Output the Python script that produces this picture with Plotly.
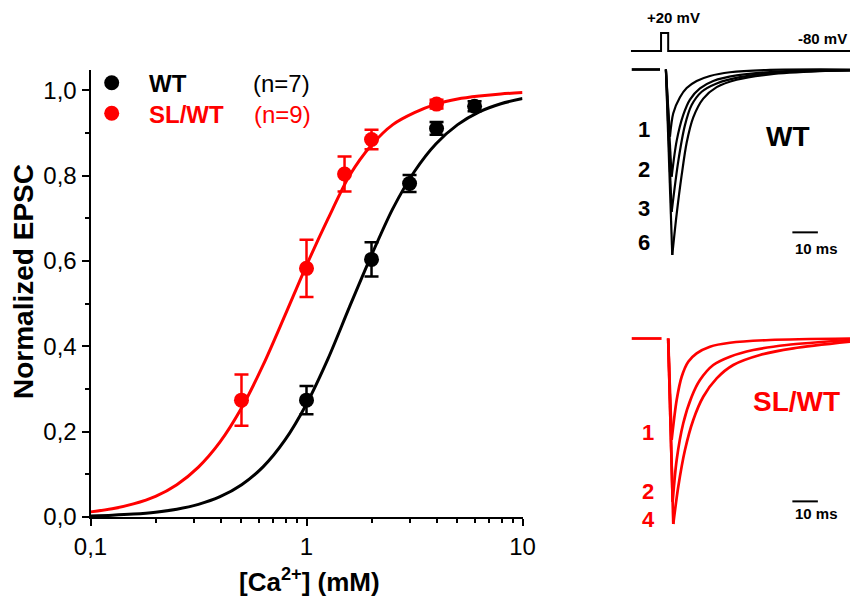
import plotly.graph_objects as go

# ---------------- data: dose-response (main panel) ----------------
wt_ca = [1, 2, 3, 4, 6]
wt_epsc = [0.274, 0.604, 0.782, 0.911, 0.963]
wt_sem = [0.033, 0.040, 0.020, 0.015, 0.012]

sl_ca = [0.5, 1, 1.5, 2, 4]
sl_epsc = [0.274, 0.583, 0.804, 0.885, 0.968]
sl_sem = [0.060, 0.067, 0.041, 0.023, 0.010]

# fitted curves
fit_ca = [0.1, 0.126, 0.158, 0.2, 0.251, 0.316, 0.398, 0.501, 0.631, 0.794, 1.0,
          1.26, 1.58, 2.0, 2.51, 3.16, 3.98, 5.01, 6.31, 7.94, 10.0]
wt_fit = [0.0026, 0.0042, 0.0068, 0.0112, 0.0182, 0.0295, 0.0475, 0.0756, 0.118, 0.180, 0.265,
          0.372, 0.492, 0.614, 0.723, 0.810, 0.875, 0.920, 0.950, 0.969, 0.981]
sl_fit = [0.012, 0.0193, 0.0307, 0.0485, 0.0759, 0.117, 0.176, 0.256, 0.357, 0.472, 0.590,
          0.700, 0.800, 0.872, 0.920, 0.948, 0.968, 0.980, 0.987, 0.992, 0.995]

x_tickvals = [0.1, 1, 10]
x_ticktext = ["0,1", "1", "10"]
x_minor = [0.2, 0.3, 0.4, 0.5, 0.6, 0.7, 0.8, 0.9, 2, 3, 4, 5, 6, 7, 8, 9]
y_tickvals = [0.0, 0.2, 0.4, 0.6, 0.8, 1.0]
y_ticktext = ["0,0", "0,2", "0,4", "0,6", "0,8", "1,0"]
y_minor = [0.1, 0.3, 0.5, 0.7, 0.9]

# ---------------- data: example traces (right panels) ----------------
stim_t = [0, 11.8, 11.8, 14.6, 14.6, 85.9]
stim_mv = [-80, -80, 20, 20, -80, -80]

pre_t = [0.3, 11.4]
wt_pre = [0.0, 0.0]
sl_pre_t = [0.3, 12.0]
sl_pre = [0.0, 0.0]

wt_onset_t = 13.7
sl_onset_t = 14.6

# WT traces (1, 2, 3, 6 mM Ca), amplitude normalised to the 6 mM peak
wt_traces = {
    "1": ([15.29, 16.59, 19.22, 21.84, 25.76, 30.98, 38.82, 54.5, 85.9],
          [-0.362, -0.236, -0.150, -0.100, -0.062, -0.035, -0.015, -0.002, 0.0]),
    "2": ([15.96, 17.92, 20.51, 23.14, 27.06, 32.27, 41.45, 61.06, 85.9],
          [-0.578, -0.385, -0.245, -0.162, -0.102, -0.062, -0.032, -0.008, -0.003]),
    "3": ([15.96, 18.55, 21.18, 23.80, 27.73, 33.61, 42.75, 61.06, 85.9],
          [-0.767, -0.495, -0.300, -0.192, -0.120, -0.075, -0.041, -0.013, -0.005]),
    "6": ([16.20, 17.92, 19.88, 21.84, 24.43, 28.35, 33.61, 41.45, 54.51, 74.1, 85.9],
          [-1.0, -0.780, -0.570, -0.395, -0.258, -0.157, -0.095, -0.055, -0.026, -0.009, -0.005]),
}
# SL/WT traces (1, 2, 4 mM Ca)
sl_traces = {
    "1": ([15.96, 17.92, 19.88, 22.47, 25.76, 30.98, 38.82, 54.51, 85.9],
          [-0.547, -0.332, -0.206, -0.125, -0.080, -0.044, -0.023, -0.008, 0.0]),
    "2": ([16.35, 17.92, 20.51, 23.80, 27.06, 32.27, 38.82, 47.96, 61.06, 85.9],
          [-0.880, -0.655, -0.457, -0.314, -0.224, -0.143, -0.098, -0.062, -0.035, -0.008]),
    "4": ([16.59, 18.55, 21.18, 24.43, 28.35, 33.61, 40.12, 50.59, 63.65, 85.9],
          [-1.0, -0.799, -0.601, -0.439, -0.314, -0.215, -0.143, -0.089, -0.053, -0.017]),
}
scalebar_ms = 10
scalebar_start = 63.3
scalebar_level = -0.878

FONT = "Liberation Sans, Arial, Helvetica, sans-serif"
RED = "#ff0000"
BLACK = "#000000"
W, H = 850, 599

def px(x):
    return x / W

def py(y):
    return 1 - y / H

fig = go.Figure()

# ---- main panel: fits ----
fig.add_trace(go.Scatter(x=fit_ca, y=sl_fit, mode="lines", line=dict(color=RED, width=3, shape="spline", smoothing=0.8),
                         xaxis="x", yaxis="y", showlegend=False, hoverinfo="skip"))
fig.add_trace(go.Scatter(x=fit_ca, y=wt_fit, mode="lines", line=dict(color=BLACK, width=3, shape="spline", smoothing=0.8),
                         xaxis="x", yaxis="y", showlegend=False, hoverinfo="skip"))
# ---- main panel: points ----
fig.add_trace(go.Scatter(x=wt_ca, y=wt_epsc, mode="markers",
                         marker=dict(color=BLACK, size=15),
                         error_y=dict(type="data", array=wt_sem, color=BLACK, thickness=2.5, width=7),
                         xaxis="x", yaxis="y", showlegend=False, cliponaxis=False))
fig.add_trace(go.Scatter(x=sl_ca, y=sl_epsc, mode="markers",
                         marker=dict(color=RED, size=15),
                         error_y=dict(type="data", array=sl_sem, color=RED, thickness=2.5, width=7),
                         xaxis="x", yaxis="y", showlegend=False, cliponaxis=False))

# ---- right panels ----
fig.add_trace(go.Scatter(x=stim_t, y=stim_mv, mode="lines", line=dict(color=BLACK, width=2),
                         xaxis="x2", yaxis="y2", showlegend=False))

fig.add_trace(go.Scatter(x=pre_t, y=wt_pre, mode="lines", line=dict(color=BLACK, width=2.8),
                         xaxis="x3", yaxis="y3", showlegend=False))
for k, (t, a) in wt_traces.items():
    fig.add_trace(go.Scatter(x=[wt_onset_t, t[0]], y=[0, a[0]], mode="lines", line=dict(color=BLACK, width=2.2),
                             xaxis="x3", yaxis="y3", showlegend=False))
    fig.add_trace(go.Scatter(x=t, y=a, mode="lines", line=dict(color=BLACK, width=2.2, shape="spline", smoothing=0.8),
                             xaxis="x3", yaxis="y3", showlegend=False))
fig.add_trace(go.Scatter(x=[scalebar_start, scalebar_start + scalebar_ms], y=[scalebar_level, scalebar_level],
                         mode="lines", line=dict(color=BLACK, width=2), xaxis="x3", yaxis="y3", showlegend=False))

fig.add_trace(go.Scatter(x=sl_pre_t, y=sl_pre, mode="lines", line=dict(color=RED, width=2.8),
                         xaxis="x4", yaxis="y4", showlegend=False))
for k, (t, a) in sl_traces.items():
    fig.add_trace(go.Scatter(x=[sl_onset_t, t[0]], y=[0, a[0]], mode="lines", line=dict(color=RED, width=2.7),
                             xaxis="x4", yaxis="y4", showlegend=False))
    fig.add_trace(go.Scatter(x=t, y=a, mode="lines", line=dict(color=RED, width=2.7, shape="spline", smoothing=0.8),
                             xaxis="x4", yaxis="y4", showlegend=False))
fig.add_trace(go.Scatter(x=[scalebar_start, scalebar_start + scalebar_ms], y=[scalebar_level, scalebar_level],
                         mode="lines", line=dict(color=BLACK, width=2), xaxis="x4", yaxis="y4", showlegend=False))

hidden = dict(visible=False, showgrid=False, zeroline=False, fixedrange=True, automargin=False)
t_range = [-4.3, 85.9]
right_dom = [px(620), 1.0]

fig.update_layout(
    width=W, height=H,
    margin=dict(l=0, r=0, t=0, b=0, autoexpand=False),
    paper_bgcolor="white", plot_bgcolor="white",
    font=dict(family=FONT, color=BLACK, size=24),
    showlegend=False,
    xaxis=dict(type="log", range=[-1, 1], domain=[px(90.5), px(522.5)], anchor="y", automargin=False,
               showline=True, linecolor=BLACK, linewidth=2, mirror=False,
               ticks="outside", ticklen=7, tickwidth=2, tickcolor=BLACK,
               tickmode="array", tickvals=x_tickvals, ticktext=x_ticktext,
               tickfont=dict(size=24, family=FONT),
               minor=dict(tickmode="array", tickvals=x_minor, ticks="outside", ticklen=4, tickwidth=2, tickcolor=BLACK, showgrid=False),
               showgrid=False, zeroline=False),
    yaxis=dict(range=[0, 1.048], domain=[py(517), py(70)], anchor="x", automargin=False,
               showline=True, linecolor=BLACK, linewidth=2,
               ticks="outside", ticklen=7, tickwidth=2, tickcolor=BLACK,
               tickmode="array", tickvals=y_tickvals, ticktext=y_ticktext,
               tickfont=dict(size=24, family=FONT),
               minor=dict(tickmode="array", tickvals=y_minor, ticks="outside", ticklen=4, tickwidth=2, tickcolor=BLACK, showgrid=False),
               showgrid=False, zeroline=False),
    xaxis2=dict(range=t_range, domain=right_dom, anchor="y2", **hidden),
    yaxis2=dict(range=[-130, 64.4], domain=[py(60), py(25)], anchor="x2", **hidden),
    xaxis3=dict(range=t_range, domain=right_dom, anchor="y3", **hidden),
    yaxis3=dict(range=[-1.054, 0.0512], domain=[py(265), py(60)], anchor="x3", **hidden),
    xaxis4=dict(range=t_range, domain=right_dom, anchor="y4", **hidden),
    yaxis4=dict(range=[-1.0593, 0.0728], domain=[py(535), py(325)], anchor="x4", **hidden),
)

# legend markers (layout shapes)
r = 7.5
for cy, col in [(82.7, BLACK), (113.3, RED)]:
    fig.add_shape(type="circle", xref="paper", yref="paper",
                  x0=px(111.7 - r), x1=px(111.7 + r), y0=py(cy + r), y1=py(cy - r),
                  fillcolor=col, line=dict(color=col, width=0))

def ann(text, x, y, size, color=BLACK, bold=False, xanchor="center", yanchor="middle", angle=0):
    fig.add_annotation(text=("<b>%s</b>" % text) if bold else text, x=px(x), y=py(y), xref="paper", yref="paper",
                       showarrow=False, xanchor=xanchor, yanchor=yanchor, textangle=angle,
                       font=dict(family=FONT, size=size, color=color))

# legend text
ann("WT", 147, 83, 24, BLACK, True, xanchor="left")
ann("(n=7)", 251, 83, 24, BLACK, False, xanchor="left")
ann("SL/WT", 147, 114, 24, RED, True, xanchor="left")
ann("(n=9)", 252, 114, 24, RED, False, xanchor="left")

# axis titles
ann("Normalized EPSC", 23, 282, 28, BLACK, True, angle=-90)
ann("[Ca<sup>2+</sup>] (mM)", 309, 580, 26, BLACK, True)

# right panel texts
ann("+20 mV", 673, 17, 15, BLACK, True)
ann("-80 mV", 849, 39, 15, BLACK, True, xanchor="right")
for lab, y in [("1", 129), ("2", 170), ("3", 209), ("6", 243)]:
    ann(lab, 644, y, 22, BLACK, True)
ann("WT", 788, 137, 28, BLACK, True)
ann("10 ms", 793, 248, 15, BLACK, True, xanchor="left")
for lab, y in [("1", 432), ("2", 491), ("4", 519)]:
    ann(lab, 648, y, 22, RED, True)
ann("SL/WT", 796, 401, 28, RED, True)
ann("10 ms", 793, 513, 15, BLACK, True, xanchor="left")

fig.write_html("out.html")
